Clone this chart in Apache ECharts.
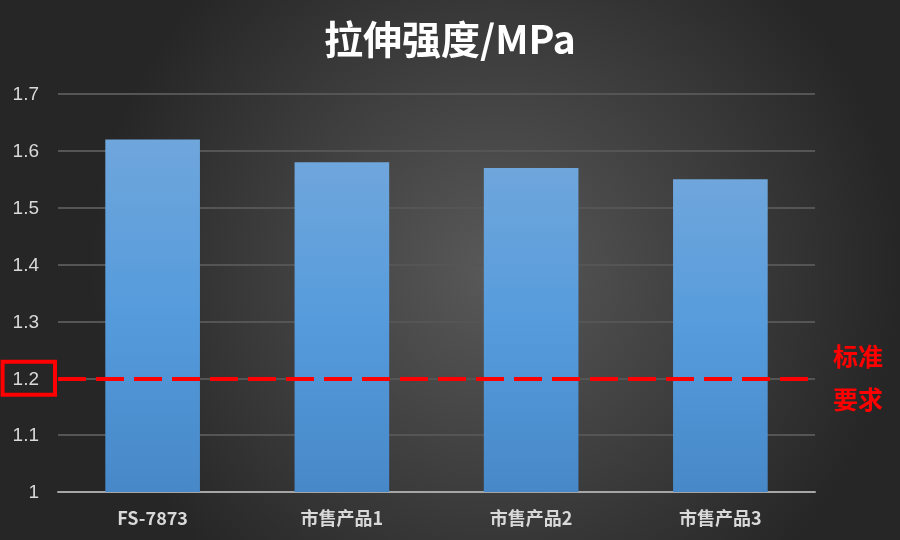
<!DOCTYPE html>
<html>
<head>
<meta charset="utf-8">
<script src="https://cdn.jsdelivr.net/npm/echarts@6/dist/echarts.min.js"></script>
<style>
html, body { margin: 0; padding: 0; }
#chart { width: 900px; height: 540px; }
</style>
</head>
<body>
<div id="chart"></div>
<script>
var categories = ['FS-7873', '市售产品1', '市售产品2', '市售产品3'];
var strength = [1.62, 1.58, 1.57, 1.55];
var standard = 1.2;
var standardLabel = '标准\n要求';

var myChart = echarts.init(document.getElementById('chart'));
var labelBox = { color : '#d9d9d9', fontSize : 19, fontFamily : 'Liberation Sans', padding : [ 8, 16, 6, 10 ] };
var option = {
	backgroundColor : {
		type : 'radial', x : 0.55, y : 0.5, r : 0.75,
		colorStops : [ { offset : 0, color : '#595959' }, { offset : 1, color : '#262626' } ]
	},
	title : {
		text : '拉伸强度/MPa',
		left : 'center',
		top : 15,
		textStyle : { color : '#ffffff', fontSize : 39, fontWeight : 'bold', fontFamily : 'Noto Sans CJK SC' }
	},
	grid : { left : 58, right : 85, top : 94, bottom : 48, containLabel : false, outerBoundsMode : 'none' },
	xAxis : {
		type : 'category',
		data : categories,
		axisLine : { lineStyle : { color : '#a6a6a6', width : 2 } },
		axisTick : { show : false },
		axisLabel : { color : '#d9d9d9', fontSize : 18, fontWeight : 'bold', margin : 17, fontFamily : 'Noto Sans CJK SC' }
	},
	yAxis : {
		type : 'value',
		min : 1, max : 1.7, interval : 0.1,
		axisLine : { show : false },
		axisTick : { show : false },
		splitLine : { lineStyle : { color : '#555555', width : 2 } },
		axisLabel : {
			margin : 3,
			formatter : function(v) {
				var s = String(Math.round(v * 10) / 10);
				return Math.abs(v - standard) < 1e-6 ? '{hl|' + s + '}' : '{n|' + s + '}';
			},
			rich : {
				n : labelBox,
				hl : echarts.util.extend({ borderColor : '#ff0000', borderWidth : 4 }, labelBox)
			}
		}
	},
	series : [ {
		type : 'bar',
		data : strength,
		barWidth : '50%',
		itemStyle : {
			color : new echarts.graphic.LinearGradient(0, 0, 0, 1, [
				{ offset : 0, color : '#6fa6dc' },
				{ offset : 0.5, color : '#559bdc' },
				{ offset : 1, color : '#4788c8' } ]),
			shadowColor : 'rgba(0,0,0,0.5)', shadowBlur : 8, shadowOffsetX : 2, shadowOffsetY : 2
		},
		markLine : {
			silent : true,
			symbol : 'none',
			data : [ { yAxis : standard } ],
			lineStyle : { color : '#ff0000', type : [ 28, 10 ], width : 4 },
			label : {
				position : 'end',
				formatter : standardLabel,
				color : '#ff0000',
				fontSize : 25,
				fontWeight : 'bold',
				lineHeight : 43,
				distance : 18,
				fontFamily : 'Noto Sans CJK SC'
			}
		}
	} ]
};
myChart.setOption(option);
</script>
</body>
</html>
